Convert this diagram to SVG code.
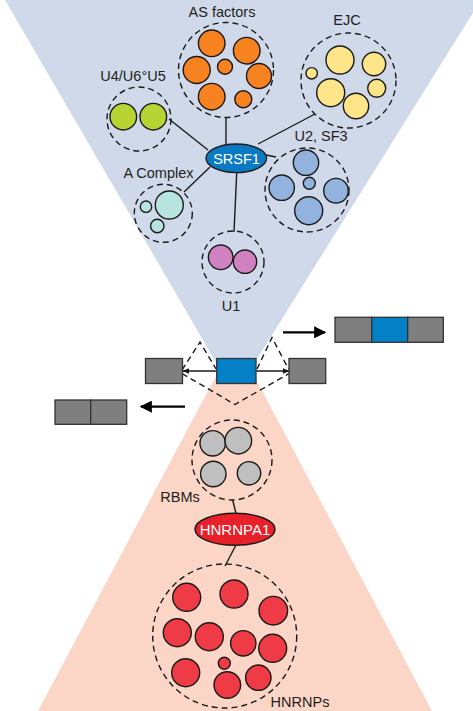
<svg xmlns="http://www.w3.org/2000/svg" width="473" height="711" viewBox="0 0 473 711">
<defs>
<style>
.lbl{font-family:"Liberation Sans",Arial,Helvetica,sans-serif;font-size:14.5px;fill:#231f20;text-anchor:middle}
.wl{font-family:"Liberation Sans",Arial,Helvetica,sans-serif;font-size:14.5px;fill:#ffffff;text-anchor:middle}
.dash{fill:none;stroke:#1a1a1a;stroke-width:1.4;stroke-dasharray:6 4}
.c{stroke:#1a1a1a;stroke-width:1.4}
.or{fill:#f7821f}
.gr{fill:#b7d433}
.ye{fill:#fee589}
.lb{fill:#93b3df}
.te{fill:#b8e4e0}
.pk{fill:#d082c0}
.gy{fill:#bfbfbf}
.rd{fill:#ef3b45}
.ln{stroke:#1a1a1a;stroke-width:1.4;fill:none}
.box{fill:#7f7f7f;stroke:#333;stroke-width:1.3}
.ex{fill:#0480c6;stroke:#333;stroke-width:1.3}
</style>
<marker id="ah" viewBox="0 0 10 10" refX="9" refY="5" markerWidth="5" markerHeight="5" orient="auto"><path d="M0,1 L10,5 L0,9 z" fill="#1a1a1a"/></marker>
<marker id="big" viewBox="0 0 10 10" refX="9" refY="5" markerWidth="5.5" markerHeight="5.5" orient="auto"><path d="M0,0 L10,5 L0,10 z" fill="#000"/></marker>
</defs>

<g id="backgrounds">
<polygon points="235,340 432,711 38,711" fill="#fbd5c5"/>
<polygon points="5,0 481,0 242,383 228,383" fill="#d0d9e9"/>
</g>

<g id="connectors">
<line class="ln" x1="226" y1="117" x2="226" y2="145"/>
<line class="ln" x1="169" y1="119" x2="208" y2="150"/>
<line class="ln" x1="315" y1="114" x2="258" y2="144"/>
<line class="ln" x1="266" y1="155" x2="276" y2="157"/>
<line class="ln" x1="210" y1="167" x2="184" y2="192"/>
<line class="ln" x1="236.7" y1="173" x2="234" y2="232"/>
<line class="ln" x1="232.7" y1="500" x2="236" y2="513.5"/>
<line class="ln" x1="236" y1="545" x2="225" y2="566"/>
<line class="ln" x1="217" y1="371" x2="183" y2="371" marker-end="url(#ah)"/>
<line class="ln" x1="256" y1="371" x2="289" y2="371" marker-end="url(#ah)"/>
<polyline class="dash" points="182,370 200,342 216,369"/>
<polyline class="dash" points="257,369 272,337.5 288.5,369"/>
<polyline class="dash" points="182,373.5 235,404.5 289,373.5"/>
<line x1="283" y1="332.3" x2="325" y2="332.3" stroke="#000" stroke-width="2.2" marker-end="url(#big)"/>
<line x1="185" y1="406.7" x2="141" y2="406.7" stroke="#000" stroke-width="2.2" marker-end="url(#big)"/>
</g>

<g id="as-factors">
<circle class="dash" cx="226" cy="70" r="47.5"/>
<circle class="c or" cx="211.7" cy="43.3" r="13.3"/>
<circle class="c or" cx="246.7" cy="50.7" r="13.3"/>
<circle class="c or" cx="196.7" cy="70" r="13.5"/>
<circle class="c or" cx="225" cy="66.7" r="7.5"/>
<circle class="c or" cx="259" cy="76" r="12.5"/>
<circle class="c or" cx="211.7" cy="96.7" r="13.3"/>
<circle class="c or" cx="243.3" cy="99.3" r="8.5"/>
<text class="lbl" x="222" y="17">AS factors</text>
</g>

<g id="u4u6u5">
<circle class="dash" cx="139" cy="119" r="32"/>
<circle class="c gr" cx="123.3" cy="116.7" r="13.3"/>
<circle class="c gr" cx="153.3" cy="116.7" r="13.3"/>
<text class="lbl" x="133" y="81">U4/U6°U5</text>
</g>

<g id="ejc">
<circle class="dash" cx="348.5" cy="80.5" r="47.5"/>
<circle class="c ye" cx="340" cy="60" r="14"/>
<circle class="c ye" cx="374" cy="64" r="11.7"/>
<circle class="c ye" cx="311.7" cy="73.3" r="5.7"/>
<circle class="c ye" cx="330.7" cy="92.7" r="14"/>
<circle class="c ye" cx="376.7" cy="88.3" r="9"/>
<circle class="c ye" cx="356" cy="106" r="12.7"/>
<text class="lbl" x="347" y="25">EJC</text>
</g>

<g id="u2sf3">
<circle class="dash" cx="307" cy="190" r="42"/>
<circle class="c lb" cx="306" cy="162.7" r="12.7"/>
<circle class="c lb" cx="281.7" cy="187.7" r="12.7"/>
<circle class="c lb" cx="309.3" cy="183.3" r="6"/>
<circle class="c lb" cx="336" cy="190.7" r="12.3"/>
<circle class="c lb" cx="308.7" cy="210.7" r="14"/>
<text class="lbl" x="321" y="141">U2, SF3</text>
</g>

<g id="a-complex">
<circle class="dash" cx="163.3" cy="213.3" r="29"/>
<circle class="c te" cx="169.3" cy="205" r="14"/>
<circle class="c te" cx="146" cy="206.7" r="5.7"/>
<circle class="c te" cx="157.3" cy="226" r="6.7"/>
<text class="lbl" x="158.5" y="178">A Complex</text>
</g>

<g id="u1">
<circle class="dash" cx="233" cy="262" r="31"/>
<circle class="c pk" cx="220.7" cy="257.3" r="12.3"/>
<circle class="c pk" cx="245" cy="261.7" r="11.7"/>
<text class="lbl" x="231" y="311">U1</text>
</g>

<g id="srsf1">
<ellipse cx="236.3" cy="158.3" rx="30.3" ry="14.3" fill="#0a7bc2" stroke="#1a1a1a" stroke-width="1.4"/>
<text class="wl" x="236.5" y="163.5">SRSF1</text>
</g>

<g id="pre-mrna">
<rect class="box" x="145.5" y="358.5" width="37" height="25"/>
<rect class="ex" x="216.7" y="358.5" width="39.3" height="25"/>
<rect class="box" x="289" y="358.5" width="36.7" height="25"/>
</g>

<g id="included-mrna">
<rect class="box" x="335" y="317.3" width="36.7" height="25"/>
<rect class="ex" x="371.7" y="317.3" width="36" height="25"/>
<rect class="box" x="407.7" y="317.3" width="35.6" height="25"/>
</g>

<g id="skipped-mrna">
<rect class="box" x="55" y="400" width="35.7" height="24.3"/>
<rect class="box" x="90.7" y="400" width="36" height="24.3"/>
</g>

<g id="rbms">
<circle class="dash" cx="232" cy="460" r="40"/>
<circle class="c gy" cx="212.7" cy="443.3" r="12.7"/>
<circle class="c gy" cx="238.3" cy="440.7" r="13.3"/>
<circle class="c gy" cx="213.3" cy="474" r="12.7"/>
<circle class="c gy" cx="249" cy="473.3" r="11.7"/>
<text class="lbl" x="180" y="502">RBMs</text>
</g>

<g id="hnrnpa1">
<ellipse cx="235" cy="529.3" rx="40" ry="16" fill="#e8202a" stroke="#1a1a1a" stroke-width="1.4"/>
<text class="wl" x="235" y="534.8" style="font-size:15px">HNRNPA1</text>
</g>

<g id="hnrnps">
<circle class="dash" cx="224.7" cy="636" r="72"/>
<circle class="c rd" cx="186.7" cy="597.3" r="14"/>
<circle class="c rd" cx="234" cy="594" r="14"/>
<circle class="c rd" cx="273.3" cy="610.7" r="14.3"/>
<circle class="c rd" cx="177.3" cy="632.7" r="14"/>
<circle class="c rd" cx="209.3" cy="636.7" r="14"/>
<circle class="c rd" cx="243.3" cy="643.3" r="12.7"/>
<circle class="c rd" cx="272.7" cy="648.3" r="14"/>
<circle class="c rd" cx="185.7" cy="672.7" r="14"/>
<circle class="c rd" cx="224.3" cy="663.3" r="6"/>
<circle class="c rd" cx="227.3" cy="685" r="13.3"/>
<circle class="c rd" cx="258.3" cy="677.7" r="12.7"/>
<text class="lbl" x="300" y="707">HNRNPs</text>
</g>
</svg>
